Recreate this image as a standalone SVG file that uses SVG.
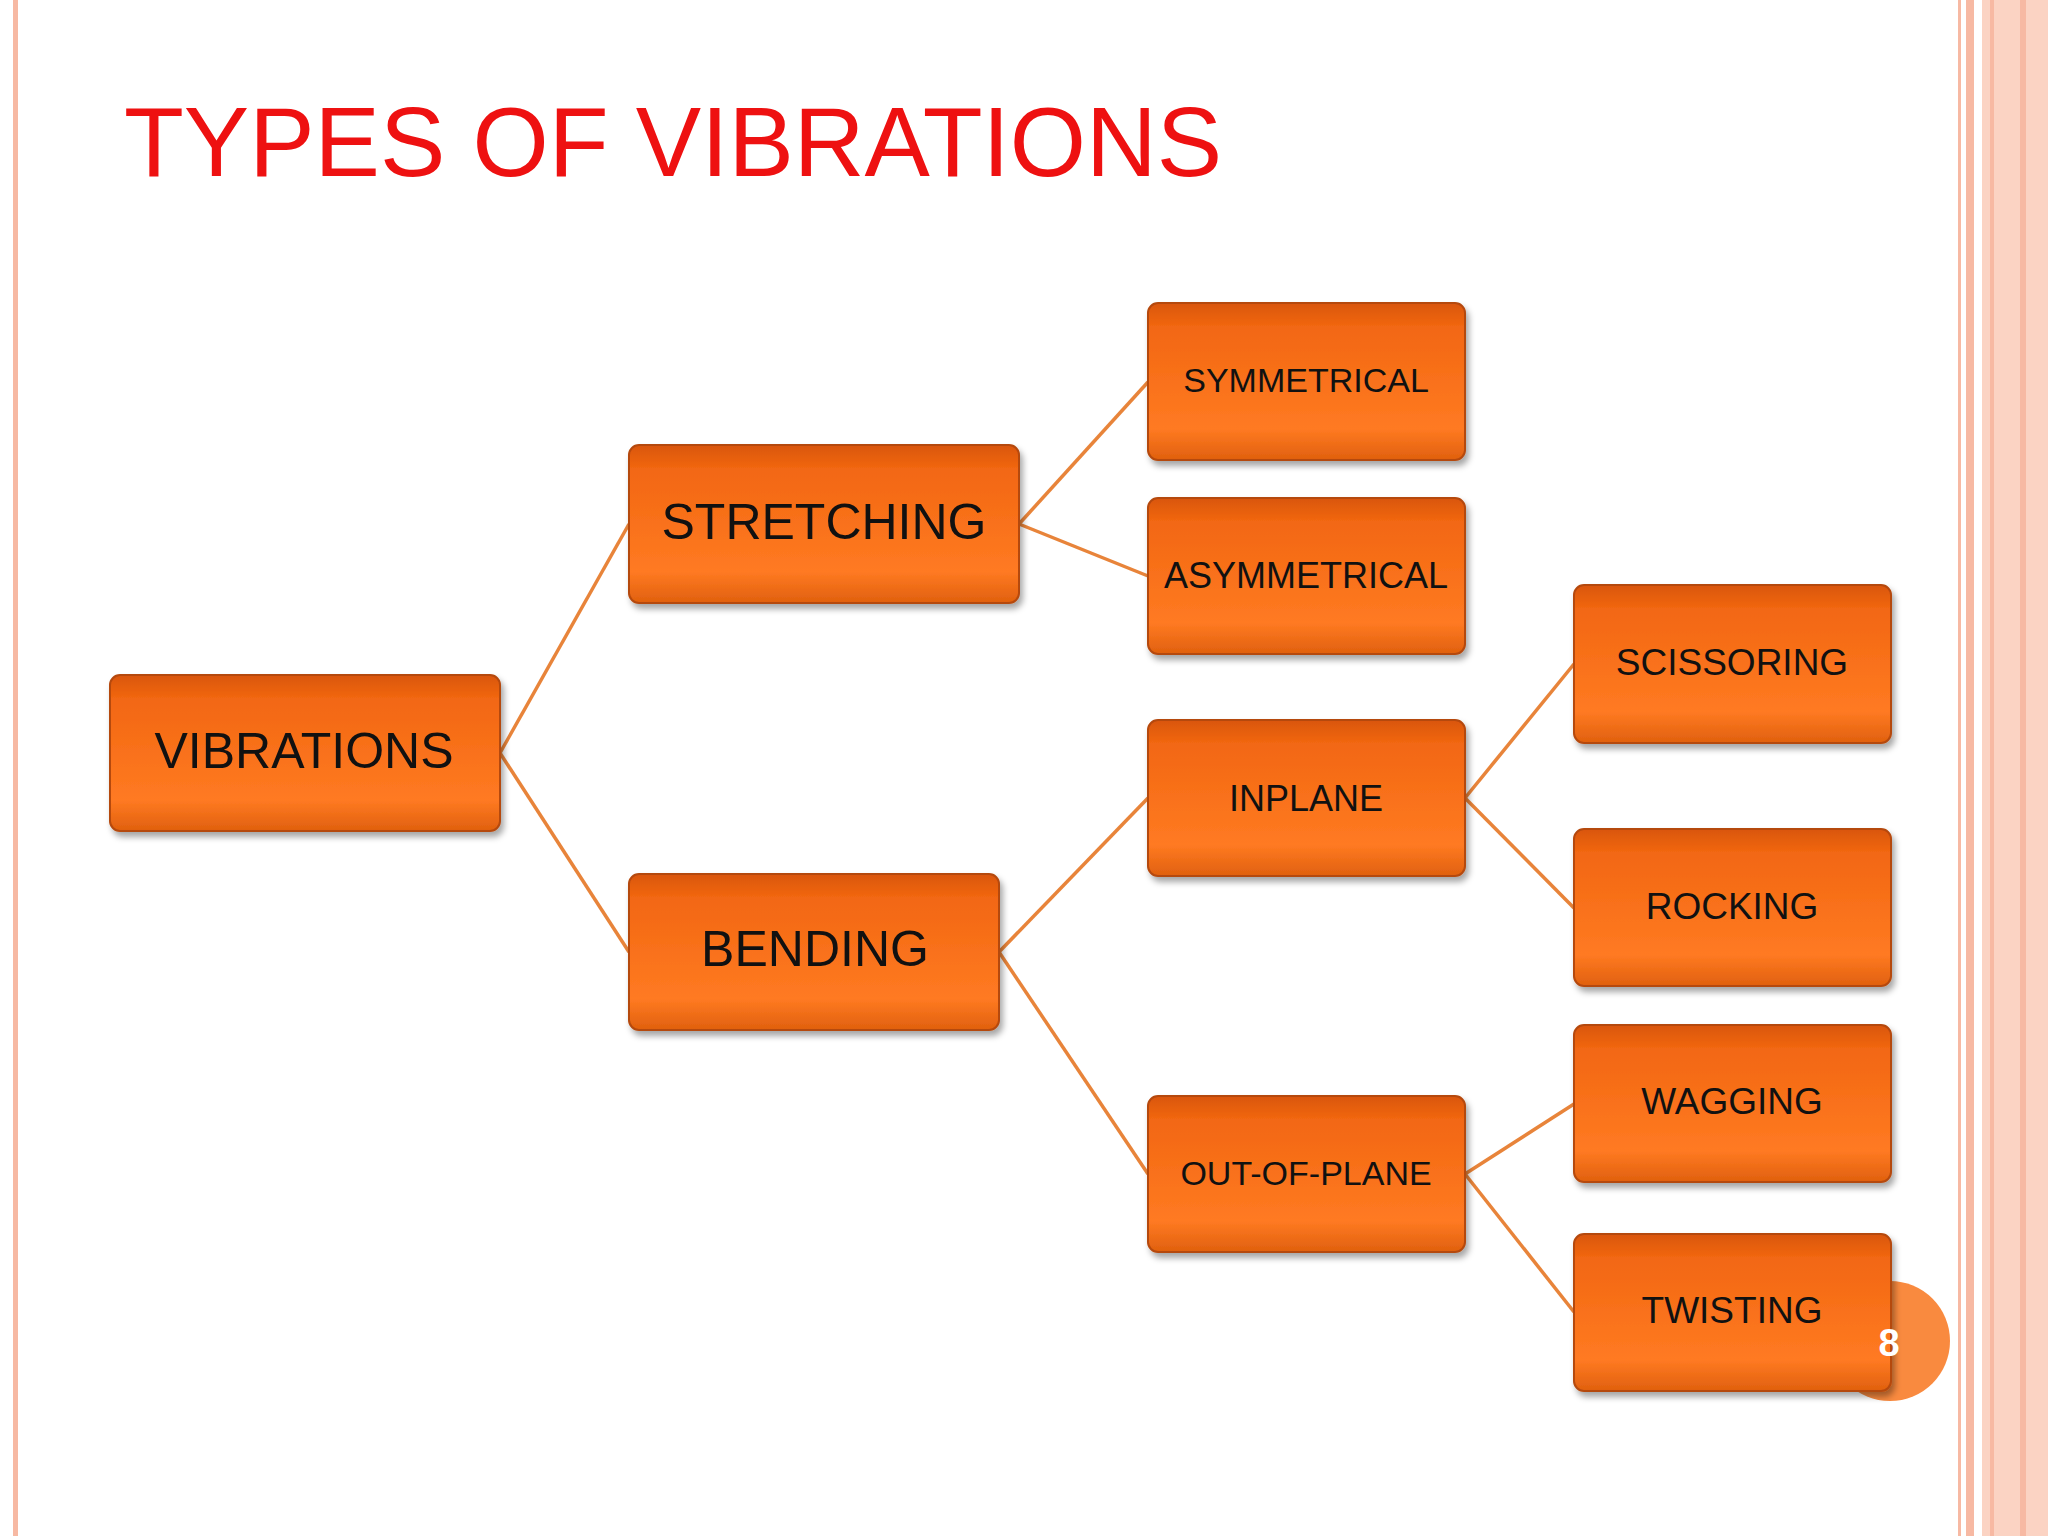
<svg xmlns="http://www.w3.org/2000/svg" width="2048" height="1536" viewBox="0 0 2048 1536">
<defs>
<linearGradient id="g" x1="0" y1="0" x2="0" y2="1">
<stop offset="0" stop-color="#D9560A"/><stop offset="0.15" stop-color="#F26712"/><stop offset="0.8" stop-color="#FF7A22"/><stop offset="1" stop-color="#E0600E"/>
</linearGradient>
<filter id="sh" x="-10%" y="-10%" width="130%" height="130%"><feDropShadow dx="3" dy="5" stdDeviation="3" flood-color="#000" flood-opacity="0.35"/></filter>
</defs>
<style>
.n rect{fill:url(#g);stroke:#B5480C;stroke-width:2;filter:url(#sh)}
.n text{font-family:"Liberation Sans",Arial,sans-serif;fill:#111;text-anchor:middle;dominant-baseline:central}
.c line{stroke:#E8843A;stroke-width:3.5}
</style>
<rect width="2048" height="1536" fill="#fff"/>
<rect x="13" y="0" width="5" height="1536" fill="#F7B9A3"/>
<rect x="1958" y="0" width="3" height="1536" fill="#F7B9A3"/>
<rect x="1966" y="0" width="8" height="1536" fill="#F7B9A3"/>
<rect x="1982" y="0" width="66" height="1536" fill="#FBD3C3"/>
<rect x="1990" y="0" width="4" height="1536" fill="#F7B9A3"/>
<rect x="2020" y="0" width="6" height="1536" fill="#F7B9A3"/>
<text x="124" y="176" font-family="Liberation Sans,Arial,sans-serif" font-size="98" fill="#EE1111">TYPES OF VIBRATIONS</text>
<g class="c">
<line x1="500" y1="753" x2="629" y2="524"/><line x1="500" y1="753" x2="629" y2="952"/>
<line x1="1019" y1="524" x2="1148" y2="382"/><line x1="1019" y1="524" x2="1148" y2="576"/>
<line x1="999" y1="952" x2="1148" y2="798"/><line x1="999" y1="952" x2="1148" y2="1174"/>
<line x1="1465" y1="798" x2="1574" y2="664"/><line x1="1465" y1="798" x2="1574" y2="908"/>
<line x1="1465" y1="1174" x2="1574" y2="1104"/><line x1="1465" y1="1174" x2="1574" y2="1312"/>
</g>
<circle cx="1890" cy="1341" r="60" fill="#F98A3F"/>
<g id="vibrations" class="n"><rect x="110" y="675" width="390" height="156" rx="10"/><text x="304" y="751" font-size="50">VIBRATIONS</text></g>
<g id="stretching" class="n"><rect x="629" y="445" width="390" height="158" rx="10"/><text x="824" y="522" font-size="50">STRETCHING</text></g>
<g id="bending" class="n"><rect x="629" y="874" width="370" height="156" rx="10"/><text x="815" y="949" font-size="50">BENDING</text></g>
<g id="symmetrical" class="n"><rect x="1148" y="303" width="317" height="157" rx="10"/><text x="1306" y="380" font-size="34">SYMMETRICAL</text></g>
<g id="asymmetrical" class="n"><rect x="1148" y="498" width="317" height="156" rx="10"/><text x="1306" y="575" font-size="36">ASYMMETRICAL</text></g>
<g id="inplane" class="n"><rect x="1148" y="720" width="317" height="156" rx="10"/><text x="1306" y="798" font-size="36">INPLANE</text></g>
<g id="outofplane" class="n"><rect x="1148" y="1096" width="317" height="156" rx="10"/><text x="1306" y="1173" font-size="34">OUT-OF-PLANE</text></g>
<g id="scissoring" class="n"><rect x="1574" y="585" width="317" height="158" rx="10"/><text x="1732" y="662" font-size="37">SCISSORING</text></g>
<g id="rocking" class="n"><rect x="1574" y="829" width="317" height="157" rx="10"/><text x="1732" y="906" font-size="37">ROCKING</text></g>
<g id="wagging" class="n"><rect x="1574" y="1025" width="317" height="157" rx="10"/><text x="1732" y="1101" font-size="37">WAGGING</text></g>
<g id="twisting" class="n"><rect x="1574" y="1234" width="317" height="157" rx="10"/><text x="1732" y="1310" font-size="37">TWISTING</text></g>
<text x="1889" y="1356" font-family="Liberation Sans,Arial,sans-serif" font-weight="bold" font-size="38" fill="#fff" text-anchor="middle">8</text>
</svg>
